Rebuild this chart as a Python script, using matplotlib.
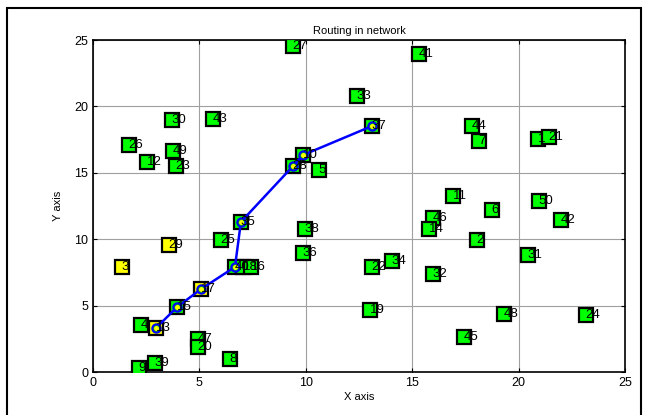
import matplotlib.pyplot as plt
from matplotlib.patches import Rectangle

plt.rcParams['font.family'] = ['Liberation Sans', 'DejaVu Sans']

# node labels and positions
labels = [27, 41, 30, 43, 33, 37, 44, 7, 1, 21,
          26, 49, 12, 23, 10, 28, 5, 11, 50, 6,
          46, 42, 35, 14, 38, 25, 2, 29, 36, 31,
          34, 3, 40, 18, 16, 22, 32, 17, 15, 19,
          48, 24, 4, 13, 45, 47, 20, 8, 39, 9]
xs = [9.40, 15.32, 3.71, 5.64, 12.41, 13.11, 17.81, 18.14, 20.91, 21.43,
      1.69, 3.76, 2.54, 3.90, 9.87, 9.40, 10.62, 16.92, 20.96, 18.75,
      15.98, 21.99, 6.95, 15.79, 9.96, 6.02, 18.05, 3.57, 9.87, 20.44,
      14.05, 1.36, 6.67, 7.05, 7.42, 13.11, 15.98, 5.08, 3.95, 13.02,
      19.31, 23.17, 2.26, 2.96, 17.43, 4.93, 4.93, 6.44, 2.91, 2.16]
ys = [24.55, 23.95, 18.98, 19.05, 20.78, 18.52, 18.52, 17.39, 17.55, 17.70,
      17.09, 16.64, 15.81, 15.51, 16.34, 15.51, 15.21, 13.25, 12.88, 12.20,
      11.60, 11.45, 11.30, 10.77, 10.77, 9.94, 9.94, 9.56, 8.96, 8.81,
      8.36, 7.91, 7.91, 7.91, 7.91, 7.91, 7.38, 6.25, 4.89, 4.67,
      4.37, 4.29, 3.54, 3.31, 2.64, 2.48, 1.88, 0.98, 0.68, 0.30]
yellow_nodes = [29, 3, 13, 17]
route = [13, 15, 17, 40, 35, 28, 10, 37]

fig = plt.figure(figsize=(6.46, 4.15), dpi=100)
ax = fig.add_axes([0.144, 0.1036, 0.8235, 0.8])

# outer frame
fig.patches.append(Rectangle((7 / 646, -0.1), 634 / 646, 1.1 - 8 / 415,
                             transform=fig.transFigure, fill=False,
                             edgecolor='black', linewidth=1.5))

for lab, x, y in zip(labels, xs, ys):
    face = '#ffff00' if lab in yellow_nodes else '#00ff00'
    ax.plot(x, y, 's', markersize=9.5, markerfacecolor=face,
            markeredgecolor='black', markeredgewidth=1.6, zorder=3)

# route
rx = [xs[labels.index(n)] for n in route]
ry = [ys[labels.index(n)] for n in route]
ax.plot(rx, ry, '-', color='#0000ff', linewidth=1.8, zorder=4)
ax.plot(rx, ry, 'o', markersize=6, markerfacecolor='#00c000',
        markeredgecolor='#0000ff', markeredgewidth=1.5, zorder=5)
ax.plot(rx, ry, 'o', markersize=2.5, color='#ffff00', zorder=6)

for lab, x, y in zip(labels, xs, ys):
    ax.text(x - 0.02, y, str(lab), fontsize=9.5, ha='left', va='center', zorder=7)

ax.set_xlim(0, 25)
ax.set_ylim(0, 25)
ax.set_xticks([0, 5, 10, 15, 20, 25])
ax.set_yticks([0, 5, 10, 15, 20, 25])
ax.grid(True, color='#a0a0a0', linewidth=0.8)
ax.set_axisbelow(True)
ax.tick_params(direction='in', length=3, labelsize=9, top=True, right=True)
for s in ax.spines.values():
    s.set_linewidth(1.2)

ax.set_title('Routing in network', fontsize=8, pad=4)
ax.set_xlabel('X axis', fontsize=8, labelpad=2)
ax.set_ylabel('Y axis', fontsize=8, labelpad=8)

fig.savefig('out.png', dpi=100)
